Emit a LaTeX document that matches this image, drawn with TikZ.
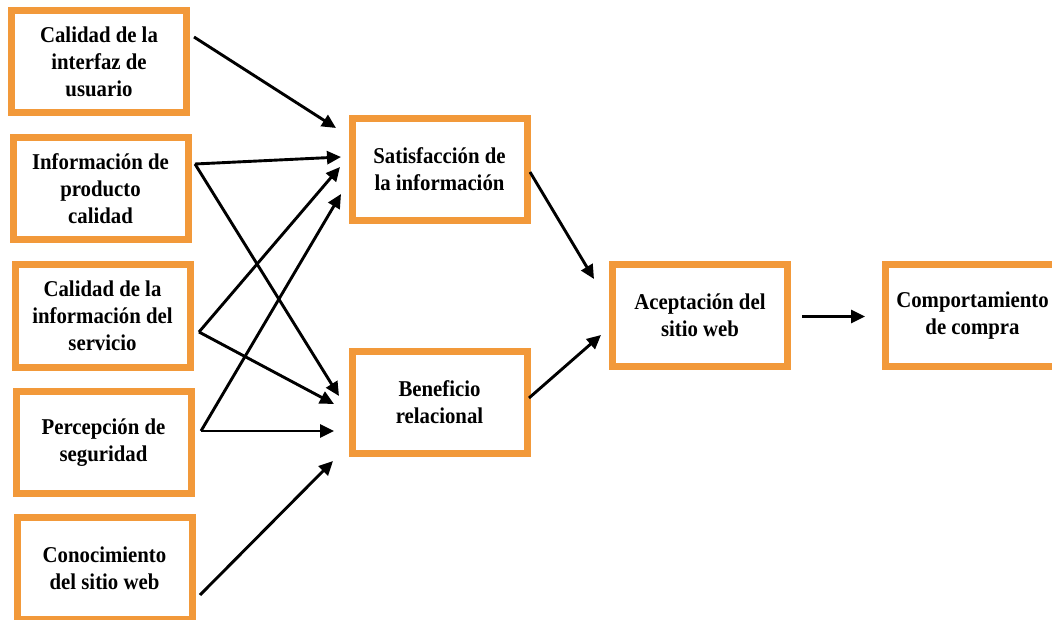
\documentclass[tikz,border=0pt]{standalone}
\usepackage{fontspec}
\setmainfont{Liberation Serif}[FakeStretch=0.92]
\usetikzlibrary{arrows.meta}
\definecolor{boxorange}{RGB}{242,153,58}
\begin{document}
\begin{tikzpicture}[x=1pt,y=-1pt,
  box/.style={draw=boxorange,line width=7pt,fill=white,minimum width=175pt,minimum height=102pt,
    inner sep=0pt,align=center,font=\bfseries\fontsize{22.6}{27}\selectfont},
  arr/.style={line width=2.9pt,-{Triangle[length=14pt,width=13pt]}}]
\useasboundingbox (0,0) rectangle (1052,620);
\clip (0,0) rectangle (1052,620);
\fill[white] (0,0) rectangle (1052,620);
% left column
\node[box] (b1) at (99,61.5) {Calidad de la\\interfaz de\\usuario};
\node[box] (b2) at (100.5,188.5) {Información de\\producto\\calidad};
\node[box] (b3) at (102.5,316) {Calidad de la\\información del\\servicio};
\node[box] (b4) at (103.5,442.5) {Percepción de\\seguridad};
\node[box] (b5) at (104.5,568) {Conocimiento\\del sitio web};
% middle
\node[box] (sat) at (439.5,169.5) {Satisfacción de\\la información};
\node[box] (ben) at (439.5,402) {Beneficio\\relacional};
% right
\node[box] (acep) at (700,315.5) {Aceptación del\\sitio web};
\node[box] (comp) at (972.5,315.5) {Comportamiento\\de compra};
% connector end points
\coordinate (s1) at (194,37);
\coordinate (s2) at (195,164);
\coordinate (s3) at (199,332);
\coordinate (s4) at (201,431);
\coordinate (s5) at (200,595);
\coordinate (ts1) at (336,128);
\coordinate (ts2) at (341,157);
\coordinate (ts3) at (340,167);
\coordinate (ts4) at (341,194);
\coordinate (tb2) at (339,396);
\coordinate (tb3) at (334,404);
\coordinate (tb4) at (334,431);
\coordinate (tb5) at (333,461);
\coordinate (ssat) at (530,172);
\coordinate (sben) at (529,398);
\coordinate (ta1) at (594,279);
\coordinate (ta2) at (601,335);
\coordinate (sac) at (802,316.5);
\coordinate (tc) at (865,316.5);
\draw[arr] (s1) -- (ts1);
\draw[arr] (s2) -- (ts2);
\draw[arr] (s2) -- (tb2);
\draw[arr] (s3) -- (ts3);
\draw[arr] (s3) -- (tb3);
\draw[arr] (s4) -- (ts4);
\draw[arr] (s4) -- (tb4);
\draw[arr] (s5) -- (tb5);
\draw[arr] (ssat) -- (ta1);
\draw[arr] (sben) -- (ta2);
\draw[arr] (sac) -- (tc);
\end{tikzpicture}
\end{document}
